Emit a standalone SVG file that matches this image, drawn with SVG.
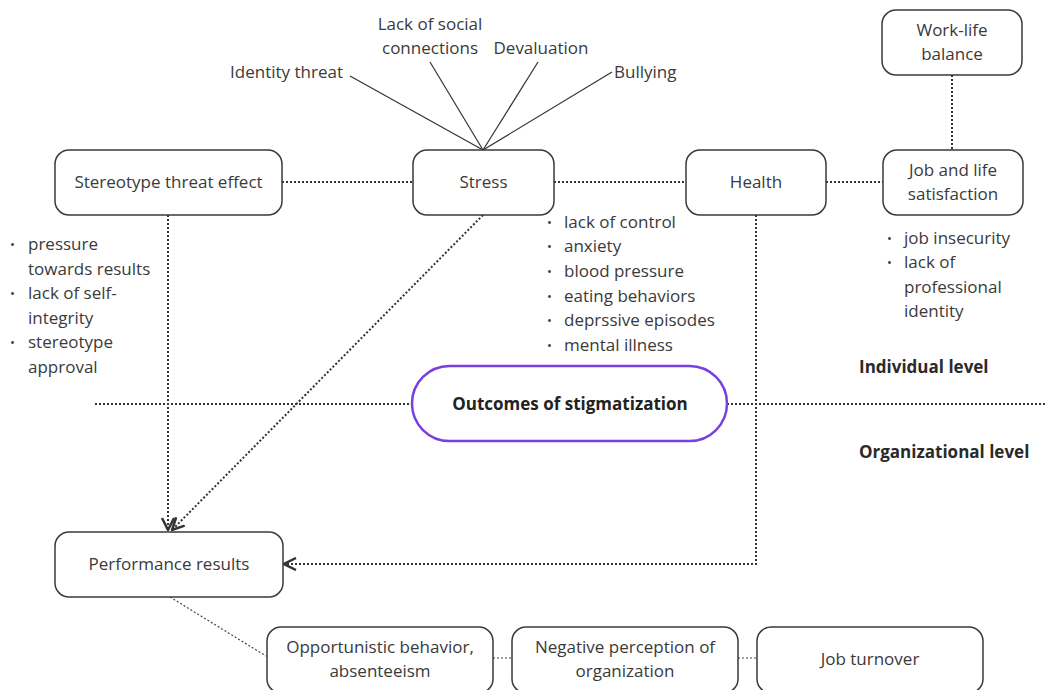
<svg xmlns="http://www.w3.org/2000/svg" width="1046" height="690" viewBox="0 0 1046 690">
<defs>
<style>
.box{fill:#fff;stroke:#3a3a3a;stroke-width:1.5}
.t{font-family:"Open Sans","Noto Sans",sans-serif;font-size:17px;fill:#3a3a3a;text-anchor:middle}
.b{font-family:"Open Sans","Noto Sans",sans-serif;font-size:17px;fill:#3a3a3a}
.dotc{font-family:"Open Sans","Noto Sans",sans-serif;font-size:13px;fill:#3a3a3a}
.lvl{font-family:"Open Sans","Noto Sans",sans-serif;font-size:17px;font-weight:bold;fill:#2a2a2a}
.dot{fill:none;stroke:#333;stroke-width:2;stroke-dasharray:2 2}
.dotthin{fill:none;stroke:#444;stroke-width:1.2;stroke-dasharray:2 2}
.solid{fill:none;stroke:#333;stroke-width:1.2}
</style>
<marker id="arr" viewBox="0 0 14 14" refX="13" refY="7" markerWidth="14" markerHeight="14" markerUnits="userSpaceOnUse" orient="auto">
<path d="M1,1 L13,7 L1,13" fill="none" stroke="#333" stroke-width="2.5"/>
</marker>
</defs>
<rect width="1046" height="690" fill="#fff"/>
<g id="connectors">
<line class="solid" x1="350" y1="76" x2="483" y2="150"/>
<line class="solid" x1="430" y1="62" x2="483" y2="150"/>
<line class="solid" x1="538" y1="62" x2="483" y2="150"/>
<line class="solid" x1="612" y1="72" x2="483" y2="150"/>
<line class="dot" x1="282" y1="182" x2="413" y2="182"/>
<line class="dot" x1="554" y1="182" x2="686" y2="182"/>
<line class="dot" x1="826" y1="182" x2="883" y2="182"/>
<line class="dot" x1="952" y1="75" x2="952" y2="150"/>
<line class="dot" x1="95" y1="404" x2="412" y2="404"/>
<line class="dot" x1="727" y1="404" x2="1046" y2="404"/>
<line class="dot" x1="168" y1="215" x2="168" y2="530" marker-end="url(#arr)"/>
<line class="dot" x1="483" y1="215" x2="172" y2="530" marker-end="url(#arr)"/>
<polyline class="dot" points="756,215 756,564 284,564" marker-end="url(#arr)"/>
<line class="dotthin" x1="170" y1="597" x2="266" y2="656"/>
<line class="dotthin" x1="493" y1="658" x2="512" y2="658"/>
<line class="dotthin" x1="738" y1="658" x2="757" y2="658"/>
</g>
<g id="stereotype">
<rect class="box" x="55" y="150" width="227" height="65" rx="14"/>
<text class="t" x="168.5" y="188">Stereotype threat effect</text>
</g>
<g id="stress">
<rect class="box" x="413" y="150" width="141" height="65" rx="14"/>
<text class="t" x="483.5" y="188">Stress</text>
</g>
<g id="health">
<rect class="box" x="686" y="150" width="140" height="65" rx="14"/>
<text class="t" x="756" y="188">Health</text>
</g>
<g id="jobsat">
<rect class="box" x="883" y="150" width="140" height="65" rx="14"/>
<text class="t" x="953" y="176">Job and life</text>
<text class="t" x="953" y="200">satisfaction</text>
</g>
<g id="worklife">
<rect class="box" x="882" y="10" width="140" height="65" rx="14"/>
<text class="t" x="952" y="36">Work-life</text>
<text class="t" x="952" y="60">balance</text>
</g>
<g id="outcomes">
<rect x="412" y="366" width="315" height="75" rx="37.5" fill="#fff" stroke="#7a3fe0" stroke-width="2.5"/>
<text class="t" x="570" y="410" style="font-weight:bold;fill:#222">Outcomes of stigmatization</text>
</g>
<g id="performance">
<rect class="box" x="55" y="532" width="228" height="65" rx="14"/>
<text class="t" x="169" y="570">Performance results</text>
</g>
<g id="opportunistic">
<rect class="box" x="267" y="627" width="226" height="66" rx="14"/>
<text class="t" x="380" y="653">Opportunistic behavior,</text>
<text class="t" x="380" y="677">absenteeism</text>
</g>
<g id="negative">
<rect class="box" x="512" y="627" width="226" height="66" rx="14"/>
<text class="t" x="625" y="653">Negative perception of</text>
<text class="t" x="625" y="677">organization</text>
</g>
<g id="turnover">
<rect class="box" x="757" y="627" width="226" height="66" rx="14"/>
<text class="t" x="870" y="665">Job turnover</text>
</g>
<g id="stressors">
<text class="b" x="343" y="78" text-anchor="end">Identity threat</text>
<text class="b" x="430" y="30" text-anchor="middle">Lack of social</text>
<text class="b" x="430" y="54" text-anchor="middle">connections</text>
<text class="b" x="541" y="54" text-anchor="middle">Devaluation</text>
<text class="b" x="614" y="78">Bullying</text>
</g>
<g id="bullets-left">
<text class="dotc" x="10" y="249">•</text><text class="b" x="28" y="250">pressure</text>
<text class="b" x="28" y="275">towards results</text>
<text class="dotc" x="10" y="298">•</text><text class="b" x="28" y="299">lack of self-</text>
<text class="b" x="28" y="324">integrity</text>
<text class="dotc" x="10" y="347">•</text><text class="b" x="28" y="348">stereotype</text>
<text class="b" x="28" y="373">approval</text>
</g>
<g id="bullets-stress">
<text class="dotc" x="547" y="227">•</text><text class="b" x="564" y="228">lack of control</text>
<text class="dotc" x="547" y="251">•</text><text class="b" x="564" y="252">anxiety</text>
<text class="dotc" x="547" y="276">•</text><text class="b" x="564" y="277">blood pressure</text>
<text class="dotc" x="547" y="301">•</text><text class="b" x="564" y="302">eating behaviors</text>
<text class="dotc" x="547" y="325">•</text><text class="b" x="564" y="326">deprssive episodes</text>
<text class="dotc" x="547" y="350">•</text><text class="b" x="564" y="351">mental illness</text>
</g>
<g id="bullets-job">
<text class="dotc" x="887" y="243">•</text><text class="b" x="904" y="244">job insecurity</text>
<text class="dotc" x="887" y="267">•</text><text class="b" x="904" y="268">lack of</text>
<text class="b" x="904" y="293">professional</text>
<text class="b" x="904" y="317">identity</text>
</g>
<g id="levels">
<text class="lvl" x="859" y="373">Individual level</text>
<text class="lvl" x="859" y="458">Organizational level</text>
</g>
</svg>
